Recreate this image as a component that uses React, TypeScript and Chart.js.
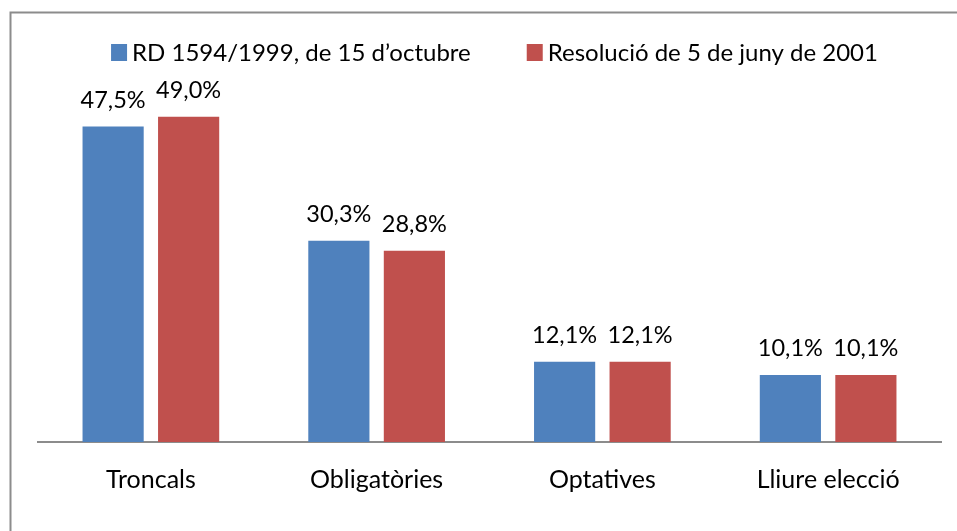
import React, { useEffect, useRef } from "react";
import { Chart, registerables } from "chart.js";

Chart.register(...registerables);

const categories = ["Troncals", "Obligatòries", "Optatives", "Lliure elecció"];
const seriesNames = ["RD 1594/1999, de 15 d’octubre", "Resolució de 5 de juny de 2001"];
const rd1594 = [47.5, 30.3, 12.1, 10.1];
const res2001 = [49.0, 28.8, 12.1, 10.1];
const seriesColors = ["#4F81BD", "#C0504D"];

const FONT = "Lato, 'Open Sans', sans-serif";
const LEGEND_SIZE = 24;
const TICK_SIZE = 25;
const LABEL_SIZE = 23.5;
const FRAME_COLOR = "#8c8c8c";

const fmt = (v: number) => v.toFixed(1).replace(".", ",") + "%";

const framePlugin = {
  id: "frame",
  beforeDraw(chart: any) {
    const ctx = chart.ctx;
    ctx.save();
    ctx.fillStyle = "#ffffff";
    ctx.fillRect(0, 0, chart.width, chart.height);
    ctx.strokeStyle = FRAME_COLOR;
    ctx.lineWidth = 2;
    ctx.beginPath();
    ctx.moveTo(10.5, chart.height + 2);
    ctx.lineTo(10.5, 12.5);
    ctx.lineTo(chart.width + 2, 12.5);
    ctx.stroke();
    ctx.restore();
  },
};

const legendPlugin = {
  id: "customLegend",
  afterDraw(chart: any) {
    const ctx = chart.ctx;
    ctx.save();
    ctx.font = `${LEGEND_SIZE}px ${FONT}`;
    ctx.textBaseline = "alphabetic";
    ctx.textAlign = "left";
    const box = 16;
    const boxGap = 5;
    const itemGap = 56;
    const widths = chart.data.datasets.map((d: any) => ctx.measureText(d.label).width);
    const total = widths.reduce((a: number, w: number) => a + box + boxGap + w, 0) + itemGap * (widths.length - 1);
    let x = 494.5 - total / 2;
    const baseline = 61;
    chart.data.datasets.forEach((d: any, i: number) => {
      ctx.fillStyle = d.backgroundColor;
      ctx.fillRect(x, 44, box, 17);
      ctx.fillStyle = "#000000";
      ctx.fillText(d.label, x + box + boxGap, baseline);
      x += box + boxGap + widths[i] + itemGap;
    });
    ctx.restore();
  },
};

const dataLabelPlugin = {
  id: "dataLabels",
  afterDatasetsDraw(chart: any) {
    const ctx = chart.ctx;
    ctx.save();
    ctx.font = `${LABEL_SIZE}px ${FONT}`;
    ctx.fillStyle = "#000000";
    ctx.textAlign = "center";
    ctx.textBaseline = "alphabetic";
    chart.data.datasets.forEach((d: any, i: number) => {
      const meta = chart.getDatasetMeta(i);
      meta.data.forEach((bar: any, j: number) => {
        ctx.fillText(fmt(d.data[j]), bar.x, bar.y - 19);
      });
    });
    ctx.restore();
  },
};

export default function App() {
  const ref = useRef<HTMLCanvasElement | null>(null);

  useEffect(() => {
    if (!ref.current) return;
    const chart = new Chart(ref.current, {
      type: "bar",
      data: {
        labels: categories,
        datasets: [
          { label: seriesNames[0], data: rd1594, backgroundColor: seriesColors[0] },
          { label: seriesNames[1], data: res2001, backgroundColor: seriesColors[1] },
        ],
      },
      options: {
        animation: false,
        responsive: false,
        devicePixelRatio: 1,
        layout: { padding: { top: 110, left: 38, right: 16, bottom: 0 } },
        datasets: {
          bar: { categoryPercentage: 0.669, barPercentage: 0.81 },
        },
        plugins: {
          legend: { display: false },
          tooltip: { enabled: false },
        },
        scales: {
          x: {
            grid: { display: false, drawTicks: false },
            border: { display: true, color: FRAME_COLOR, width: 2 },
            ticks: {
              color: "#000000",
              font: { family: FONT, size: TICK_SIZE },
              padding: 23,
              maxRotation: 0,
              autoSkip: false,
            },
            afterFit: (scale: any) => {
              scale.height = 89;
            },
          },
          y: { display: false, min: 0, max: 50 },
        },
      },
      plugins: [framePlugin, legendPlugin, dataLabelPlugin],
    });
    return () => chart.destroy();
  }, []);

  return (
    <div style={{ position: "absolute", left: 0, top: 0, width: 957, height: 531 }}>
      <canvas ref={ref} width={957} height={531} />
    </div>
  );
}
